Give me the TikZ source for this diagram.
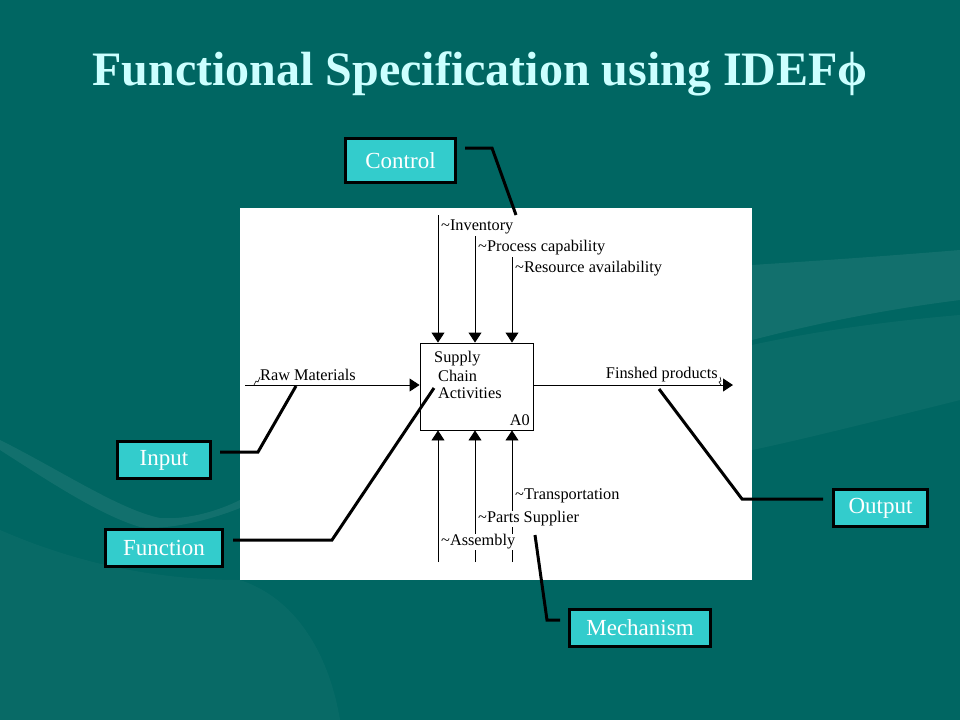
\documentclass[tikz,border=0pt]{standalone}
\usepackage{fontspec}
\setmainfont{Liberation Serif}
\usetikzlibrary{arrows.meta}
\definecolor{bgteal}{RGB}{0,102,98}
\definecolor{callfill}{RGB}{51,204,204}
\definecolor{titlecol}{RGB}{204,255,255}
\begin{document}
\begin{tikzpicture}[x=1pt,y=-1pt,
  callout/.style={draw=black,line width=3pt,fill=callfill,text=white,
    font=\fontsize{23}{26}\selectfont,inner sep=0pt,minimum height=37pt},
  lbl/.style={font=\fontsize{16.3}{18}\selectfont,inner sep=1pt,anchor=west,yshift=-2pt},
  flow/.style={line width=0.9pt,-{Triangle[width=13pt,length=10pt]}},
  pointer/.style={line width=3pt,line join=miter},
  swoosh/.style={white,opacity=0.07},
]
\fill[bgteal] (0,0) rectangle (960,720);
\useasboundingbox (0,0) rectangle (960,720);

% background decorations
\fill[swoosh] (0,440) .. controls (60,470) and (120,510) .. (160,518)
  .. controls (190,520) and (220,510) .. (240,500) -- (240,508)
  .. controls (200,524) and (160,530) .. (140,527)
  .. controls (100,515) and (50,482) .. (0,450) -- cycle;
\fill[white,opacity=0.03] (0,530) .. controls (80,565) and (160,580) .. (240,580)
  .. controls (300,600) and (330,660) .. (340,720) -- (0,720) -- cycle;
\fill[swoosh] (752,265) .. controls (830,260) and (900,255) .. (960,250)
  -- (960,300) .. controls (880,310) and (810,325) .. (752,340) -- cycle;
\fill[white,opacity=0.04] (752,345) .. controls (820,330) and (900,320) .. (960,315)
  -- (960,400) .. controls (880,420) and (800,440) .. (752,450) -- cycle;

% title
\node[font=\bfseries\fontsize{48}{54}\selectfont,text=titlecol,anchor=base] (title) at (480,85) {Functional Specification using IDEFϕ};

% white panel
\fill[white] (240,208) rectangle (752,580);

% function box
\node[draw,line width=0.9pt,minimum width=113pt,minimum height=87pt,inner sep=0pt] (box) at (476.5,386.5) {};
\node[lbl] (t1) at (433,357) {Supply};
\node[lbl] (t2) at (437,374) {Chain};
\node[lbl] (t3) at (437,391) {Activities};
\node[lbl,anchor=east] (a0) at (531,418) {A0};

% controls
\coordinate (c1) at (438,215);
\coordinate (c2) at (475,236);
\coordinate (c3) at (512,257);
\draw[flow] (c1) -- (c1 |- box.north);
\draw[flow] (c2) -- (c2 |- box.north);
\draw[flow] (c3) -- (c3 |- box.north);
\node[lbl,fill=white] (inv) at (440,225) {\textasciitilde Inventory};
\node[lbl,fill=white] (proc) at (477,246) {\textasciitilde Process capability};
\node[lbl,fill=white] (res) at (514,267) {\textasciitilde Resource availability};

% mechanisms
\coordinate (m1) at (438,562);
\coordinate (m2) at (475,562);
\coordinate (m3) at (512,562);
\draw[flow] (m1) -- (m1 |- box.south);
\draw[flow] (m2) -- (m2 |- box.south);
\draw[flow] (m3) -- (m3 |- box.south);
\node[lbl,fill=white] (trans) at (514,494) {\textasciitilde Transportation};
\node[lbl,fill=white] (parts) at (477,517) {\textasciitilde Parts Supplier};
\node[lbl,fill=white] (asm) at (440,540) {\textasciitilde Assembly};

% input
\coordinate (in0) at (245,385);
\draw[flow] (in0) -- (in0 -| box.west);
\node[lbl] (raw) at (259,373) {Raw Materials};
\draw[line width=0.6pt] (254,385) -- (256,381) -- (258,382) -- (260,377);

% output
\coordinate (out0) at (733,385);
\draw[flow] (box.east |- out0) -- (out0);
\node[lbl,anchor=east] (fin) at (719,373) {Finshed products};
\draw[line width=0.6pt] (720,377) -- (721,381) -- (719,382) -- (721,385);

% callouts
\node[callout,minimum width=110pt,minimum height=44pt] (ctrl) at (400.5,160.5) {Control};
\node[callout,minimum width=93pt] (inp) at (164,460) {Input};
\node[callout,minimum width=117pt] (func) at (164,548) {Function};
\node[callout,minimum width=94pt] (outp) at (880.5,508) {Output};
\node[callout,minimum width=141pt] (mech) at (640,628) {Mechanism};

% pointers
\coordinate (pc) at (465,148);
\coordinate (pct) at (516,215);
\draw[pointer] (pc) -- (492,148) -- (pct);
\coordinate (pi) at (220,452);
\coordinate (pit) at (296,386);
\draw[pointer] (pi) -- (258,452) -- (pit);
\coordinate (pf) at (233,540);
\coordinate (pft) at (434,388);
\draw[pointer] (pf) -- (332,540) -- (pft);
\coordinate (po) at (823,499);
\coordinate (pot) at (659,389);
\draw[pointer] (po) -- (742,499) -- (pot);
\coordinate (pm) at (560,620);
\coordinate (pmt) at (535,535);
\draw[pointer] (pm) -- (547,620) -- (pmt);
\end{tikzpicture}
\end{document}
